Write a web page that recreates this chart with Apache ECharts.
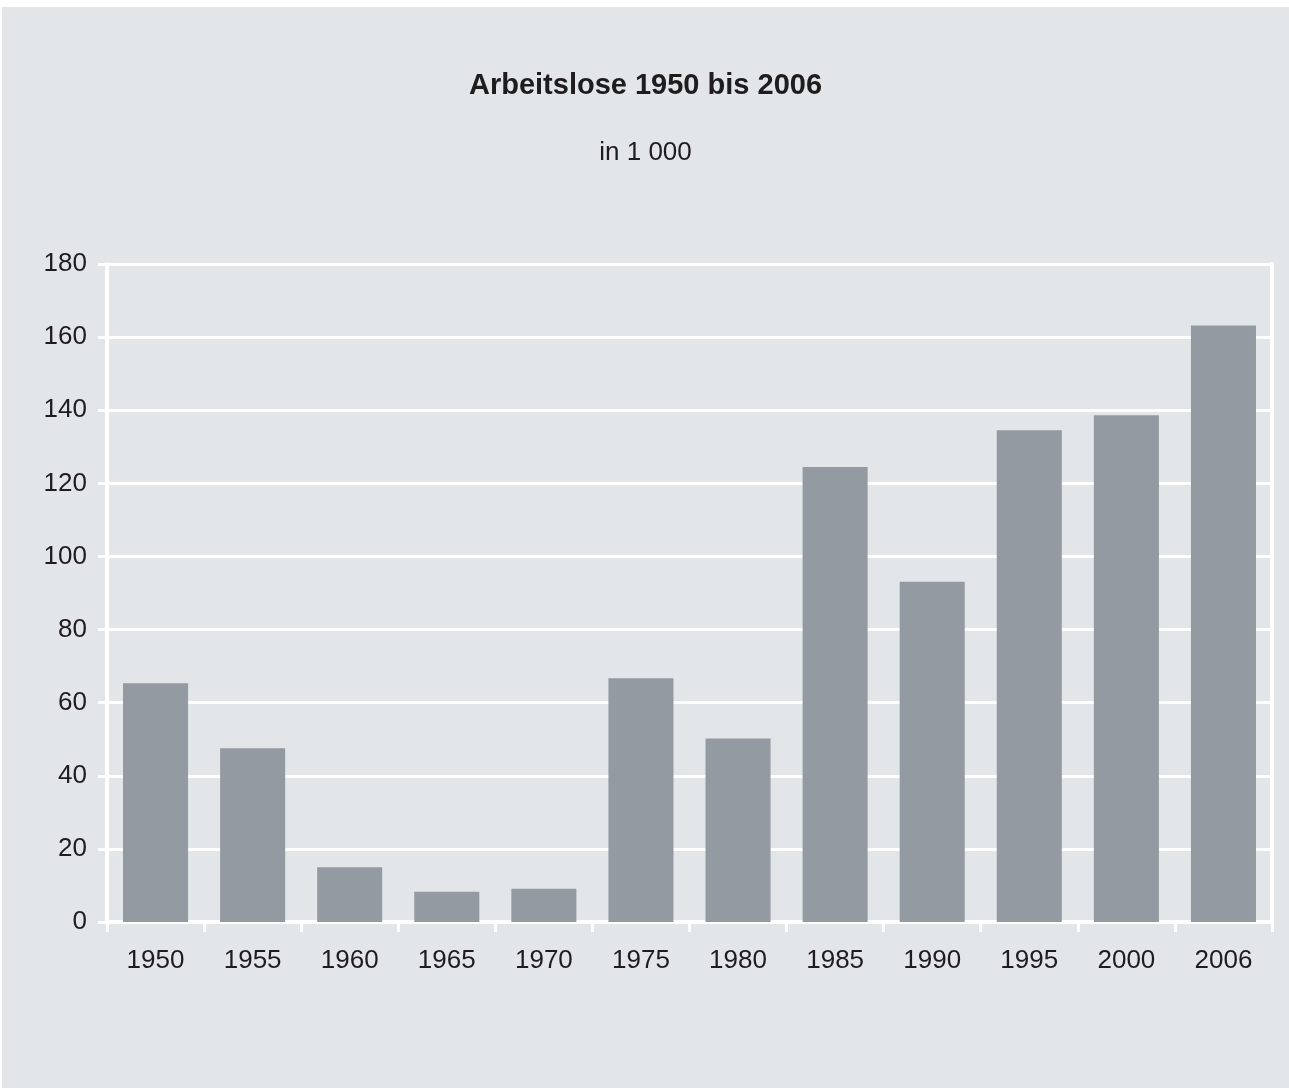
<!DOCTYPE html>
<html>
<head>
<meta charset="utf-8">
<style>
  html, body { margin: 0; padding: 0; background: #ffffff; }
  #chart { position: absolute; left: 2px; top: 7px; width: 1287px; height: 1081px; background: #e2e6e9; }
</style>
<script src="https://cdn.jsdelivr.net/npm/echarts@6/dist/echarts.min.js"></script>
</head>
<body>
<div id="chart"></div>
<script>
// Arbeitslose in 1 000, ausgewählte Jahre
const years = ['1950', '1955', '1960', '1965', '1970', '1975', '1980', '1985', '1990', '1995', '2000', '2006'];
const unemployed = [65.3, 47.5, 15.0, 8.3, 9.1, 66.7, 50.2, 124.5, 93.1, 134.5, 138.6, 163.2];

const titleText = 'Arbeitslose 1950 bis 2006';
const subtitleText = 'in 1 000';

const textColor = '#1f1c1d';
const fontFamily = '"Liberation Sans", Arial, Helvetica, sans-serif';

const chart = echarts.init(document.getElementById('chart'), null, { renderer: 'canvas' });

chart.setOption({
  backgroundColor: '#e2e6e9',
  animation: false,
  title: [
    {
      text: titleText,
      left: 'center',
      top: 59,
      textStyle: { fontFamily, fontSize: 29, fontWeight: 'bold', color: textColor }
    },
    {
      text: subtitleText,
      left: 'center',
      top: 128,
      textStyle: { fontFamily, fontSize: 26, fontWeight: 'normal', color: textColor }
    }
  ],
  grid: { left: 105, right: 17, top: 257, bottom: 166, containLabel: false },
  xAxis: {
    type: 'category',
    data: years,
    boundaryGap: true,
    axisLine: { show: true, lineStyle: { color: '#ffffff', width: 4 } },
    axisTick: { show: true, alignWithLabel: false, length: 10, lineStyle: { color: '#ffffff', width: 3 } },
    axisLabel: { fontFamily, fontSize: 26, color: textColor, margin: 26 },
    splitLine: { show: false }
  },
  yAxis: [
    {
      type: 'value',
      min: 0,
      max: 180,
      interval: 20,
      axisLine: { show: true, lineStyle: { color: '#ffffff', width: 4 } },
      axisTick: { show: true, length: 9, lineStyle: { color: '#ffffff', width: 3 } },
      axisLabel: { fontFamily, fontSize: 26, color: textColor, margin: 20 },
      splitLine: { show: true, lineStyle: { color: '#ffffff', width: 3 } }
    },
    {
      type: 'value',
      position: 'right',
      min: 0,
      max: 180,
      interval: 20,
      axisLine: { show: true, lineStyle: { color: '#ffffff', width: 4 } },
      axisTick: { show: false },
      axisLabel: { show: false },
      splitLine: { show: false }
    }
  ],
  series: [
    {
      type: 'bar',
      data: unemployed,
      yAxisIndex: 0,
      barCategoryGap: '33%',
      itemStyle: { color: '#939aa1' },
      z: 3
    }
  ]
});
</script>
</body>
</html>
